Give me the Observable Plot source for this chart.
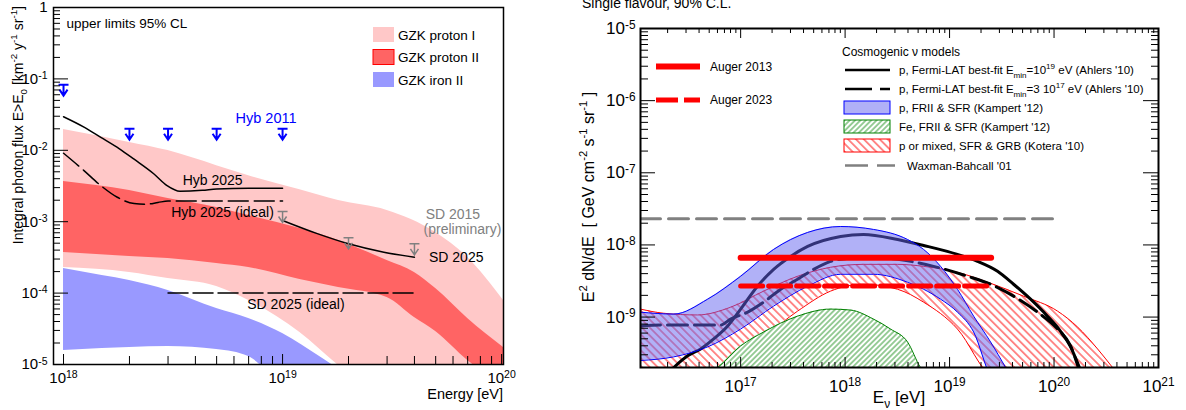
<!DOCTYPE html>
<html>
<head>
<meta charset="utf-8">
<script src="https://cdn.jsdelivr.net/npm/d3@7"></script>
<script src="https://cdn.jsdelivr.net/npm/@observablehq/plot@0.6"></script>
<style>
  body { margin: 0; background: #fff; }
  #page { position: relative; width: 1186px; height: 410px; overflow: hidden; background: #fff;
          font-family: "Liberation Sans", Arial, Helvetica, sans-serif; }
  .panel { position: absolute; top: 0; }
  .panel svg { display: block; }
</style>
</head>
<body>
<div id="page">
  <div id="left" class="panel" style="left:0px"></div>
  <div id="right" class="panel" style="left:540px"></div>
</div>
<script>
// ================= Left panel: integral photon flux (km^-2 yr^-1 sr^-1) vs energy (eV) =================

// GZK proton I expectation band
const protonIEnergy = [1e18, 2e18, 3e18, 5e18, 7e18, 1.2e19, 1.8e19, 3e19, 5e19, 7e19, 1.02e20];
const protonIHigh   = [1.96e-2, 1.29e-2, 9.9e-3, 6.1e-3, 4.4e-3, 2.8e-3, 1.98e-3, 1.44e-3, 7.06e-4, 3.15e-4, 7.9e-5];
const protonILow    = [2.28e-4, 1.95e-4, 1.60e-4, 1.24e-4, 7.9e-5, 2.8e-5, 9.7e-6, 3e-6, 1e-6, 1e-6, 1e-6];

// GZK proton II expectation band
const protonIIEnergy = [1e18, 2e18, 3e18, 5e18, 7e18, 1.2e19, 1.8e19, 3e19, 4e19, 5e19, 7e19, 1.02e20];
const protonIIHigh   = [3.66e-3, 2.74e-3, 2.11e-3, 1.58e-3, 1.22e-3, 8.0e-4, 5.46e-4, 2.86e-4, 1.95e-4, 1.16e-4, 4.41e-5, 1.73e-5];
const protonIILow    = [3.70e-4, 3.26e-4, 3.05e-4, 2.60e-4, 2.28e-4, 1.55e-4, 1.20e-4, 8.67e-5, 4.55e-5, 2.90e-5, 1.14e-5, 5e-6];

// GZK iron II expectation band
const ironIIEnergy = [1e18, 1.5e18, 2e18, 3e18, 5e18, 7e18, 1e19, 1.5e19, 2e19];
const ironIIHigh   = [2.21e-4, 1.76e-4, 1.50e-4, 1.09e-4, 6.08e-5, 4.41e-5, 2.72e-5, 1.25e-5, 7.0e-6];
const ironIILow    = [1.57e-5, 1.67e-5, 1.73e-5, 1.79e-5, 1.62e-5, 1.29e-5, 5e-6, 3e-6, 2e-6];

// Hybrid sensitivity projections
const hyb2025Energy = [1e18, 1.24e18, 1.48e18, 1.8e18, 2.1e18, 2.58e18, 2.97e18, 3.4e18, 4.3e18, 5e18, 7e18, 1e19];
const hyb2025Flux   = [2.95e-2, 2.11e-2, 1.52e-2, 1.05e-2, 7.5e-3, 4.7e-3, 3.2e-3, 2.67e-3, 2.75e-3, 2.87e-3, 2.95e-3, 2.95e-3];
const hybIdealEnergy = [1e18, 1.24e18, 1.48e18, 1.76e18, 2.1e18, 2.4e18, 2.7e18, 3e18, 1e19];
const hybIdealFlux   = [9.1e-3, 5.2e-3, 3.2e-3, 2.2e-3, 1.8e-3, 1.76e-3, 1.86e-3, 1.95e-3, 1.95e-3];

// Surface detector sensitivity projections
const sd2025Energy = [1e19, 1.44e19, 2e19, 2.9e19, 4e19];
const sd2025Flux   = [1.04e-3, 6.8e-4, 4.9e-4, 3.74e-4, 3.18e-4];
const sdIdealEnergy = [3e18, 4e19];
const sdIdealFlux   = [1e-4, 1e-4];

// Published upper limits
const hyb2011Energy = [1e18, 2e18, 3e18, 5e18, 1e19];
const hyb2011Limit  = [0.083, 0.020, 0.020, 0.020, 0.020];
const sd2015Energy  = [1e19, 2e19, 4e19];
const sd2015Limit   = [1.39e-3, 5.95e-4, 4.9e-4];

// ================= Right panel: E^2 dN/dE (GeV cm^-2 s^-1 sr^-1) vs neutrino energy (eV) =================

// p, FRII & SFR (Kampert '12)
const kampertPEnergy = [1.1e16, 2.29e16, 4.83e16, 1e17, 2.07e17, 4.38e17, 9.06e17, 1.87e18, 3.96e18, 5.64e18, 8.2e18, 1.19e19, 1.70e19, 2.47e19, 3.44e19];
const kampertPHigh   = [1.17e-9, 1.10e-9, 1.77e-9, 3.68e-9, 8.67e-9, 1.49e-8, 1.80e-8, 1.64e-8, 1.19e-8, 8.67e-9, 5.05e-9, 2.43e-9, 1.03e-9, 4.52e-10, 2.0e-10];
const kampertPLow    = [2.5e-10, 2.81e-10, 3.86e-10, 6.83e-10, 1.42e-9, 2.68e-9, 3.92e-9, 3.92e-9, 3.04e-9, 2.43e-9, 1.77e-9, 1.17e-9, 6.21e-10, 1.5e-10, 1e-10];

// Fe, FRII & SFR (Kampert '12)
const kampertFeEnergy = [4.14e16, 6.03e16, 1e17, 1.66e17, 3.51e17, 7.26e17, 1.13e18, 1.87e18, 2.72e18, 3.96e18, 5.27e18, 6.58e18];
const kampertFeHigh   = [1.4e-10, 2.0e-10, 3.98e-10, 6.21e-10, 1.03e-9, 1.29e-9, 1.25e-9, 9.37e-10, 6.83e-10, 4.52e-10, 2.0e-10, 1.4e-10];

// p or mixed, SFR & GRB (Kotera '10)
const koteraEnergy = [1.1e16, 1.83e16, 3.88e16, 8.02e16, 1.66e17, 3.51e17, 7.26e17, 1.5e18, 3.18e18, 5.64e18, 1.19e19, 2.47e19, 5.1e19, 1.08e20, 1.68e20, 2.61e20, 3.63e20];
const koteraHigh   = [1.29e-9, 1.13e-9, 1.07e-9, 1.37e-9, 2.29e-9, 3.68e-9, 4.90e-9, 5.38e-9, 5.38e-9, 5.05e-9, 4.17e-9, 2.94e-9, 1.95e-9, 1.21e-9, 7.28e-10, 3.62e-10, 2.0e-10];
const koteraLow    = [1e-10, 1e-10, 1.5e-10, 2.47e-10, 5.30e-10, 1.21e-9, 2.29e-9, 2.85e-9, 2.43e-9, 1.61e-9, 6.83e-10, 1.5e-10, 1e-10, 1e-10, 1e-10, 1e-10, 1e-10];

// p, Fermi-LAT best fit, Emin = 1e19 eV (Ahlers '10)
const ahlersHighEnergy = [2.29e16, 3.11e16, 4.14e16, 5.52e16, 7.52e16, 1e17, 1.45e17, 2.07e17, 3.01e17, 4.38e17, 9.06e17, 1.5e18, 3.18e18, 5.64e18, 1.19e19, 1.85e19, 2.88e19, 4.1e19, 5.96e19, 8.66e19, 1.15e20, 1.44e20, 1.75e20];
const ahlersHighFlux   = [2.0e-10, 2.90e-10, 3.62e-10, 4.98e-10, 7.52e-10, 1.29e-9, 2.68e-9, 4.59e-9, 6.93e-9, 9.53e-9, 1.31e-8, 1.40e-8, 1.19e-8, 9.84e-9, 7.40e-9, 5.92e-9, 4.31e-9, 2.85e-9, 1.77e-9, 1.03e-9, 6.41e-10, 3.86e-10, 2.0e-10];

// p, Fermi-LAT best fit, Emin = 3e17 eV (Ahlers '10)
const ahlersLowEnergy = [1.1e16, 1.83e16, 3.88e16, 6.44e16, 8.02e16, 1.17e17, 1.66e17, 2.42e17, 3.51e17, 5.0e17, 7.26e17, 1.06e18, 1.5e18, 3.18e18, 7.03e18, 1.49e19, 2.47e19, 4.1e19, 6.95e19, 1.08e20, 1.44e20, 1.71e20];
const ahlersLowFlux   = [7.52e-10, 7.76e-10, 7.76e-10, 7.76e-10, 9.37e-10, 1.17e-9, 1.61e-9, 2.43e-9, 3.34e-9, 4.59e-9, 5.92e-9, 6.51e-9, 6.73e-9, 6.31e-9, 5.05e-9, 3.68e-9, 2.85e-9, 1.95e-9, 1.17e-9, 6.83e-10, 3.98e-10, 2.0e-10];

// Waxman-Bahcall '01 bound
const wbEnergy = [1.1e16, 1e20];
const wbFlux   = [2.3e-8, 2.3e-8];

// Auger single-flavour limits
const augerEnergy = [1e17, 2.5e19];
const auger2013Flux = [6.65e-9, 6.65e-9];
const auger2023Flux = [2.7e-9, 2.7e-9];

// ================= helpers =================
const FONT = '"Liberation Sans", Arial, Helvetica, sans-serif';
// tick text as "10^e"; the exponent is turned into a raised tspan after rendering
const pow10 = (v) => {
  const e = Math.round(Math.log10(v));
  return e === 0 ? "1" : "10^" + e;
};
function raiseExponents(svg) {
  d3.select(svg).selectAll('g[aria-label$="tick label"] text').each(function () {
    const m = this.textContent.match(/^10\^(-?\d+)$/);
    if (!m) return;
    const t = d3.select(this);
    t.text("");
    t.append("tspan").text("10");
    t.append("tspan").attr("dy", "-0.45em").attr("font-size", "0.7em").text(m[1]);
  });
}
const pts = (xs, ys) => xs.map((x, i) => ({x, y: ys[i]}));
const band = (xs, lo, hi) => xs.map((x, i) => ({x, lo: lo[i], hi: hi[i]}));

function logTicks([lo, hi]) {
  const major = [], minor = [];
  for (let e = Math.floor(Math.log10(lo)); e <= Math.ceil(Math.log10(hi)); e++) {
    for (let m = 1; m <= 9; m++) {
      const v = +(m + "e" + e);
      if (v < lo / 1.0001 || v > hi * 1.0001) continue;
      (m === 1 ? major : minor).push(v);
    }
  }
  return {major, minor};
}

// inward-pointing ticks of fixed pixel length on chosen sides of the frame
function frameTicks(xt, yt, innerW, innerH, o) {
  const marks = [];
  const st = {stroke: "#000", strokeWidth: o.tickWidth};
  if (o.left) {
    marks.push(Plot.tickY(yt.major, {y: (d) => d, insetRight: innerW - o.left[0], ...st}));
    marks.push(Plot.tickY(yt.minor, {y: (d) => d, insetRight: innerW - o.left[1], ...st}));
  }
  if (o.right) {
    marks.push(Plot.tickY(yt.major, {y: (d) => d, insetLeft: innerW - o.right[0], ...st}));
    marks.push(Plot.tickY(yt.minor, {y: (d) => d, insetLeft: innerW - o.right[1], ...st}));
  }
  if (o.bottom) {
    marks.push(Plot.tickX(xt.major, {x: (d) => d, insetTop: innerH - o.bottom[0], ...st}));
    marks.push(Plot.tickX(xt.minor, {x: (d) => d, insetTop: innerH - o.bottom[1], ...st}));
  }
  if (o.top) {
    marks.push(Plot.tickX(xt.major, {x: (d) => d, insetBottom: innerH - o.top[0], ...st}));
    marks.push(Plot.tickX(xt.minor, {x: (d) => d, insetBottom: innerH - o.top[1], ...st}));
  }
  return marks;
}

// upper-limit marker: bar at the limit value, stem and arrow head pointing down
const limitArrow = {
  draw(ctx) {
    ctx.moveTo(-5, 0); ctx.lineTo(5, 0);
    ctx.moveTo(0, 0); ctx.lineTo(0, 11);
    ctx.moveTo(-4, 5); ctx.lineTo(0, 11); ctx.lineTo(4, 5);
  }
};

// ================= left panel =================
const L = {width: 530, height: 410, ml: 53, mr: 27, mt: 7, mb: 46};
const LxDomain = [9.0e17, 1.02e20], LyDomain = [1e-5, 1];
const LiW = L.width - L.ml - L.mr, LiH = L.height - L.mt - L.mb;
const LxT = logTicks(LxDomain), LyT = logTicks(LyDomain);

const leftPlot = Plot.plot({
  width: L.width, height: L.height,
  marginLeft: L.ml, marginRight: L.mr, marginTop: L.mt, marginBottom: L.mb,
  x: {type: "log", domain: LxDomain},
  y: {type: "log", domain: LyDomain},
  style: {fontFamily: FONT, fontSize: "15px", color: "#000", background: "transparent", overflow: "visible"},
  marks: [
    Plot.areaY(band(protonIEnergy, protonILow, protonIHigh), {x: "x", y1: "lo", y2: "hi", fill: "#ffc8c8", curve: "monotone-x", clip: true}),
    Plot.areaY(band(protonIIEnergy, protonIILow, protonIIHigh), {x: "x", y1: "lo", y2: "hi", fill: "#ff6464", curve: "monotone-x", clip: true}),
    Plot.areaY(band(ironIIEnergy, ironIILow, ironIIHigh), {x: "x", y1: "lo", y2: "hi", fill: "#9999ff", curve: "monotone-x", clip: true}),

    Plot.line(pts(hyb2025Energy, hyb2025Flux), {x: "x", y: "y", stroke: "#000", strokeWidth: 1.5, curve: "monotone-x", clip: true}),
    Plot.line(pts(hybIdealEnergy, hybIdealFlux), {x: "x", y: "y", stroke: "#000", strokeWidth: 1.5, strokeDasharray: "20,6", curve: "monotone-x", clip: true}),
    Plot.line(pts(sd2025Energy, sd2025Flux), {x: "x", y: "y", stroke: "#000", strokeWidth: 1.5, curve: "monotone-x", clip: true}),
    Plot.line(pts(sdIdealEnergy, sdIdealFlux), {x: "x", y: "y", stroke: "#000", strokeWidth: 1.5, strokeDasharray: "20,5", clip: true}),

    Plot.dot(pts(hyb2011Energy, hyb2011Limit), {x: "x", y: "y", symbol: limitArrow, stroke: "#0000ff", fill: "none", strokeWidth: 2}),
    Plot.dot(pts(sd2015Energy, sd2015Limit), {x: "x", y: "y", symbol: limitArrow, stroke: "#808080", fill: "none", strokeWidth: 1.5}),

    Plot.text(["Hyb 2011"], {x: [6.1e18], y: [0.028], fill: "#0000ff", fontSize: 14.5, textAnchor: "start", lineAnchor: "middle"}),
    Plot.text(["Hyb 2025"], {x: [3.5e18], y: [3.8e-3], fill: "#000", fontSize: 14, textAnchor: "start", lineAnchor: "middle"}),
    Plot.text(["Hyb 2025 (ideal)"], {x: [3.1e18], y: [1.36e-3], fill: "#000", fontSize: 14, textAnchor: "start", lineAnchor: "middle"}),
    Plot.text(["SD 2025 (ideal)"], {x: [6.9e18], y: [6.9e-5], fill: "#000", fontSize: 14, textAnchor: "start", lineAnchor: "middle"}),
    Plot.text(["SD 2015"], {x: [4.5e19], y: [1.26e-3], fill: "#808080", fontSize: 14, textAnchor: "start", lineAnchor: "middle"}),
    Plot.text(["(preliminary)"], {x: [4.4e19], y: [7.7e-4], fill: "#808080", fontSize: 14, textAnchor: "start", lineAnchor: "middle"}),
    Plot.text(["SD 2025"], {x: [4.66e19], y: [3.18e-4], fill: "#000", fontSize: 14, textAnchor: "start", lineAnchor: "middle"}),

    Plot.frame({stroke: "#000", strokeWidth: 1.5}),
    ...frameTicks(LxT, LyT, LiW, LiH, {left: [15, 7], bottom: [10, 8], tickWidth: 1}),
    Plot.axisX({ticks: LxT.major, tickSize: 0, tickPadding: 8, tickFormat: pow10, label: null}),
    Plot.axisY({ticks: LyT.major, tickSize: 0, tickPadding: 6, tickFormat: pow10, label: null})
  ]
});
raiseExponents(leftPlot);
document.getElementById("left").appendChild(leftPlot);

// ================= right panel =================
const R = {width: 646, height: 410, ml: 100, mr: 28, mt: 28, mb: 43};
const RxDomain = [1.1e16, 1e21], RyDomain = [2e-10, 1e-5];
const RiW = R.width - R.ml - R.mr, RiH = R.height - R.mt - R.mb;
const RxT = logTicks(RxDomain), RyT = logTicks(RyDomain);

const rightPlot = Plot.plot({
  width: R.width, height: R.height,
  marginLeft: R.ml, marginRight: R.mr, marginTop: R.mt, marginBottom: R.mb,
  x: {type: "log", domain: RxDomain},
  y: {type: "log", domain: RyDomain},
  style: {fontFamily: FONT, fontSize: "17px", color: "#000", background: "transparent", overflow: "visible"},
  marks: [
    Plot.line(pts(wbEnergy, wbFlux), {x: "x", y: "y", stroke: "#808080", strokeWidth: 3, strokeDasharray: "20,8", clip: true}),

    // Kotera band: hatched area with red outline
    Plot.areaY(band(koteraEnergy, koteraLow, koteraHigh), {x: "x", y1: "lo", y2: "hi", fill: "url(#hatchRed)", curve: "monotone-x", clip: true}),
    Plot.line(pts(koteraEnergy, koteraHigh), {x: "x", y: "y", stroke: "#ff0000", strokeWidth: 1, curve: "monotone-x", clip: true}),
    Plot.line(pts(koteraEnergy, koteraLow), {x: "x", y: "y", stroke: "#ff0000", strokeWidth: 1, curve: "monotone-x", clip: true}),

    // Kampert Fe band
    Plot.areaY(kampertFeEnergy.map((x, i) => ({x, hi: kampertFeHigh[i]})), {x: "x", y1: () => RyDomain[0] / 2, y2: "hi", fill: "#fff", curve: "monotone-x", clip: true}),
    Plot.areaY(kampertFeEnergy.map((x, i) => ({x, hi: kampertFeHigh[i]})), {x: "x", y1: () => RyDomain[0] / 2, y2: "hi", fill: "url(#hatchGreen)", curve: "monotone-x", clip: true}),
    Plot.line(pts(kampertFeEnergy, kampertFeHigh), {x: "x", y: "y", stroke: "#008000", strokeWidth: 1, curve: "monotone-x", clip: true}),

    // Ahlers model curves
    Plot.line(pts(ahlersHighEnergy, ahlersHighFlux), {x: "x", y: "y", stroke: "#000", strokeWidth: 3, curve: "monotone-x", clip: true}),
    Plot.line(pts(ahlersLowEnergy, ahlersLowFlux), {x: "x", y: "y", stroke: "#000", strokeWidth: 3, strokeDasharray: "20,7", curve: "monotone-x", clip: true}),

    // Kampert p band: translucent fill over the rest, blue outline
    Plot.areaY(band(kampertPEnergy, kampertPLow, kampertPHigh), {x: "x", y1: "lo", y2: "hi", fill: "#6464f0", fillOpacity: 0.5, curve: "monotone-x", clip: true}),
    Plot.line(pts(kampertPEnergy, kampertPHigh), {x: "x", y: "y", stroke: "#0000ff", strokeWidth: 1, curve: "monotone-x", clip: true}),
    Plot.line(pts(kampertPEnergy, kampertPLow), {x: "x", y: "y", stroke: "#0000ff", strokeWidth: 1, curve: "monotone-x", clip: true}),

    // Auger limits
    Plot.line(pts(augerEnergy, auger2013Flux), {x: "x", y: "y", stroke: "#ff0000", strokeWidth: 6, clip: true}),
    Plot.line(pts(augerEnergy, auger2023Flux), {x: "x", y: "y", stroke: "#ff0000", strokeWidth: 5, strokeDasharray: "22,6", clip: true}),

    Plot.frame({stroke: "#000", strokeWidth: 2}),
    ...frameTicks(RxT, RyT, RiW, RiH, {left: [15, 8], right: [15, 7], bottom: [10, 5], top: [10, 5], tickWidth: 1}),
    Plot.axisX({ticks: RxT.major, tickSize: 0, tickPadding: 12, tickFormat: pow10, label: null}),
    Plot.axisY({ticks: RyT.major, tickSize: 0, tickPadding: 5, tickFormat: pow10, label: null})
  ]
});
raiseExponents(rightPlot);
document.getElementById("right").appendChild(rightPlot);

// ================= titles, legends and hatch patterns =================
const overlay = d3.select("#page").append("svg")
  .attr("width", 1186).attr("height", 410)
  .style("position", "absolute").style("left", 0).style("top", 0)
  .style("pointer-events", "none")
  .style("font-family", FONT);

const defs = overlay.append("defs");
function hatch(id, color, spacing, angle, width) {
  const p = defs.append("pattern").attr("id", id)
    .attr("patternUnits", "userSpaceOnUse")
    .attr("width", spacing).attr("height", spacing)
    .attr("patternTransform", `rotate(${angle})`);
  p.append("line").attr("x1", spacing / 2).attr("y1", -1).attr("x2", spacing / 2).attr("y2", spacing + 1)
    .attr("stroke", color).attr("stroke-width", width);
}
hatch("hatchRed", "#ff0000", 5.6, -45, 0.9);
hatch("hatchGreen", "#008000", 3.8, 45, 0.8);

// text with superscript / subscript runs: parts are strings or [text, "sup"|"sub"]
function rich(sel, parts, fs) {
  let cur = 0;
  for (const p of parts) {
    const [str, mode] = typeof p === "string" ? [p, ""] : p;
    const target = mode === "sup" ? -0.42 * fs : mode === "sub" ? 0.32 * fs : 0;
    const t = sel.append("tspan").attr("dy", target - cur).text(str);
    if (mode) t.attr("font-size", 0.7 * fs);
    cur = target;
  }
  return sel;
}
function label(x, y, fs, opts = {}) {
  const t = overlay.append("text").attr("x", x).attr("y", y)
    .attr("font-size", fs).attr("fill", opts.fill || "#000")
    .attr("text-anchor", opts.anchor || "start")
    .style("white-space", "pre");
  if (opts.transform) t.attr("transform", opts.transform).attr("x", 0).attr("y", 0);
  return t;
}

// left panel texts
label(66.5, 27.5, 13.5).text("upper limits 95% CL");
rich(label(0, 0, 14, {anchor: "end", transform: "translate(23,6) rotate(-90)"}),
  ["Integral photon flux E>E", ["0", "sub"], " [km", ["-2", "sup"], " y", ["-1", "sup"], " sr", ["-1", "sup"], "]"], 14);
label(503, 399, 14.5, {anchor: "end"}).text("Energy [eV]");

// left legend
const leftLegend = [
  {y: 27, fill: "#ffc8c8", stroke: "none", text: "GZK proton I"},
  {y: 49.5, fill: "#ff6464", stroke: "#ff0000", text: "GZK proton II"},
  {y: 72, fill: "#9999ff", stroke: "none", text: "GZK iron II"}
];
for (const e of leftLegend) {
  overlay.append("rect").attr("x", 373).attr("y", e.y).attr("width", 21).attr("height", 15)
    .attr("fill", e.fill).attr("stroke", e.stroke).attr("stroke-width", 1);
  label(398, e.y + 12.5, 13.5).text(e.text);
}

// right panel texts
label(582, 7.5, 14).text("Single flavour, 90% C.L.");
rich(label(0, 0, 16, {anchor: "middle", transform: "translate(594,197) rotate(-90)"}),
  ["E", ["2", "sup"], " dN/dE  [ GeV cm", ["-2", "sup"], " s", ["-1", "sup"], " sr", ["-1", "sup"], " ]"], 16);
rich(label(899, 403, 17, {anchor: "middle"}), ["E", ["\u03bd", "sub"], " [eV]"], 17);

// Auger legend
overlay.append("line").attr("x1", 656).attr("x2", 700).attr("y1", 66.5).attr("y2", 66.5)
  .attr("stroke", "#ff0000").attr("stroke-width", 6);
label(710, 70.5, 12).text("Auger 2013");
overlay.append("line").attr("x1", 656).attr("x2", 700).attr("y1", 100).attr("y2", 100)
  .attr("stroke", "#ff0000").attr("stroke-width", 5).attr("stroke-dasharray", "22,6");
label(710, 104, 12).text("Auger 2023");

// model legend
const LF = 11.5;
label(842, 55.5, 12).text("Cosmogenic \u03bd models");
overlay.append("line").attr("x1", 845).attr("x2", 890).attr("y1", 70).attr("y2", 70)
  .attr("stroke", "#000").attr("stroke-width", 2.5);
rich(label(899, 74, LF), ["p, Fermi-LAT best-fit E", ["min", "sub"], "=10", ["19", "sup"], " eV (Ahlers '10)"], LF);
overlay.append("line").attr("x1", 845).attr("x2", 890).attr("y1", 89).attr("y2", 89)
  .attr("stroke", "#000").attr("stroke-width", 2.5).attr("stroke-dasharray", "27,8");
rich(label(899, 93, LF), ["p, Fermi-LAT best-fit E", ["min", "sub"], "=3 10", ["17", "sup"], " eV (Ahlers '10)"], LF);
overlay.append("rect").attr("x", 844).attr("y", 101).attr("width", 46).attr("height", 13)
  .attr("fill", "#b0b0f7").attr("stroke", "#0000ff").attr("stroke-width", 1);
label(899, 112, LF).text("p, FRII & SFR (Kampert '12)");
overlay.append("rect").attr("x", 844).attr("y", 120).attr("width", 46).attr("height", 13)
  .attr("fill", "url(#hatchGreen)").attr("stroke", "#008000").attr("stroke-width", 1);
label(899, 131, LF).text("Fe, FRII & SFR (Kampert '12)");
overlay.append("rect").attr("x", 844).attr("y", 139).attr("width", 46).attr("height", 13)
  .attr("fill", "url(#hatchRed)").attr("stroke", "#ff0000").attr("stroke-width", 1);
label(899, 150, LF).text("p or mixed, SFR & GRB (Kotera '10)");
overlay.append("line").attr("x1", 845).attr("x2", 895).attr("y1", 165.5).attr("y2", 165.5)
  .attr("stroke", "#808080").attr("stroke-width", 2.5).attr("stroke-dasharray", "23,9");
label(907, 169.5, LF).text("Waxman-Bahcall '01");
</script>
</body>
</html>
